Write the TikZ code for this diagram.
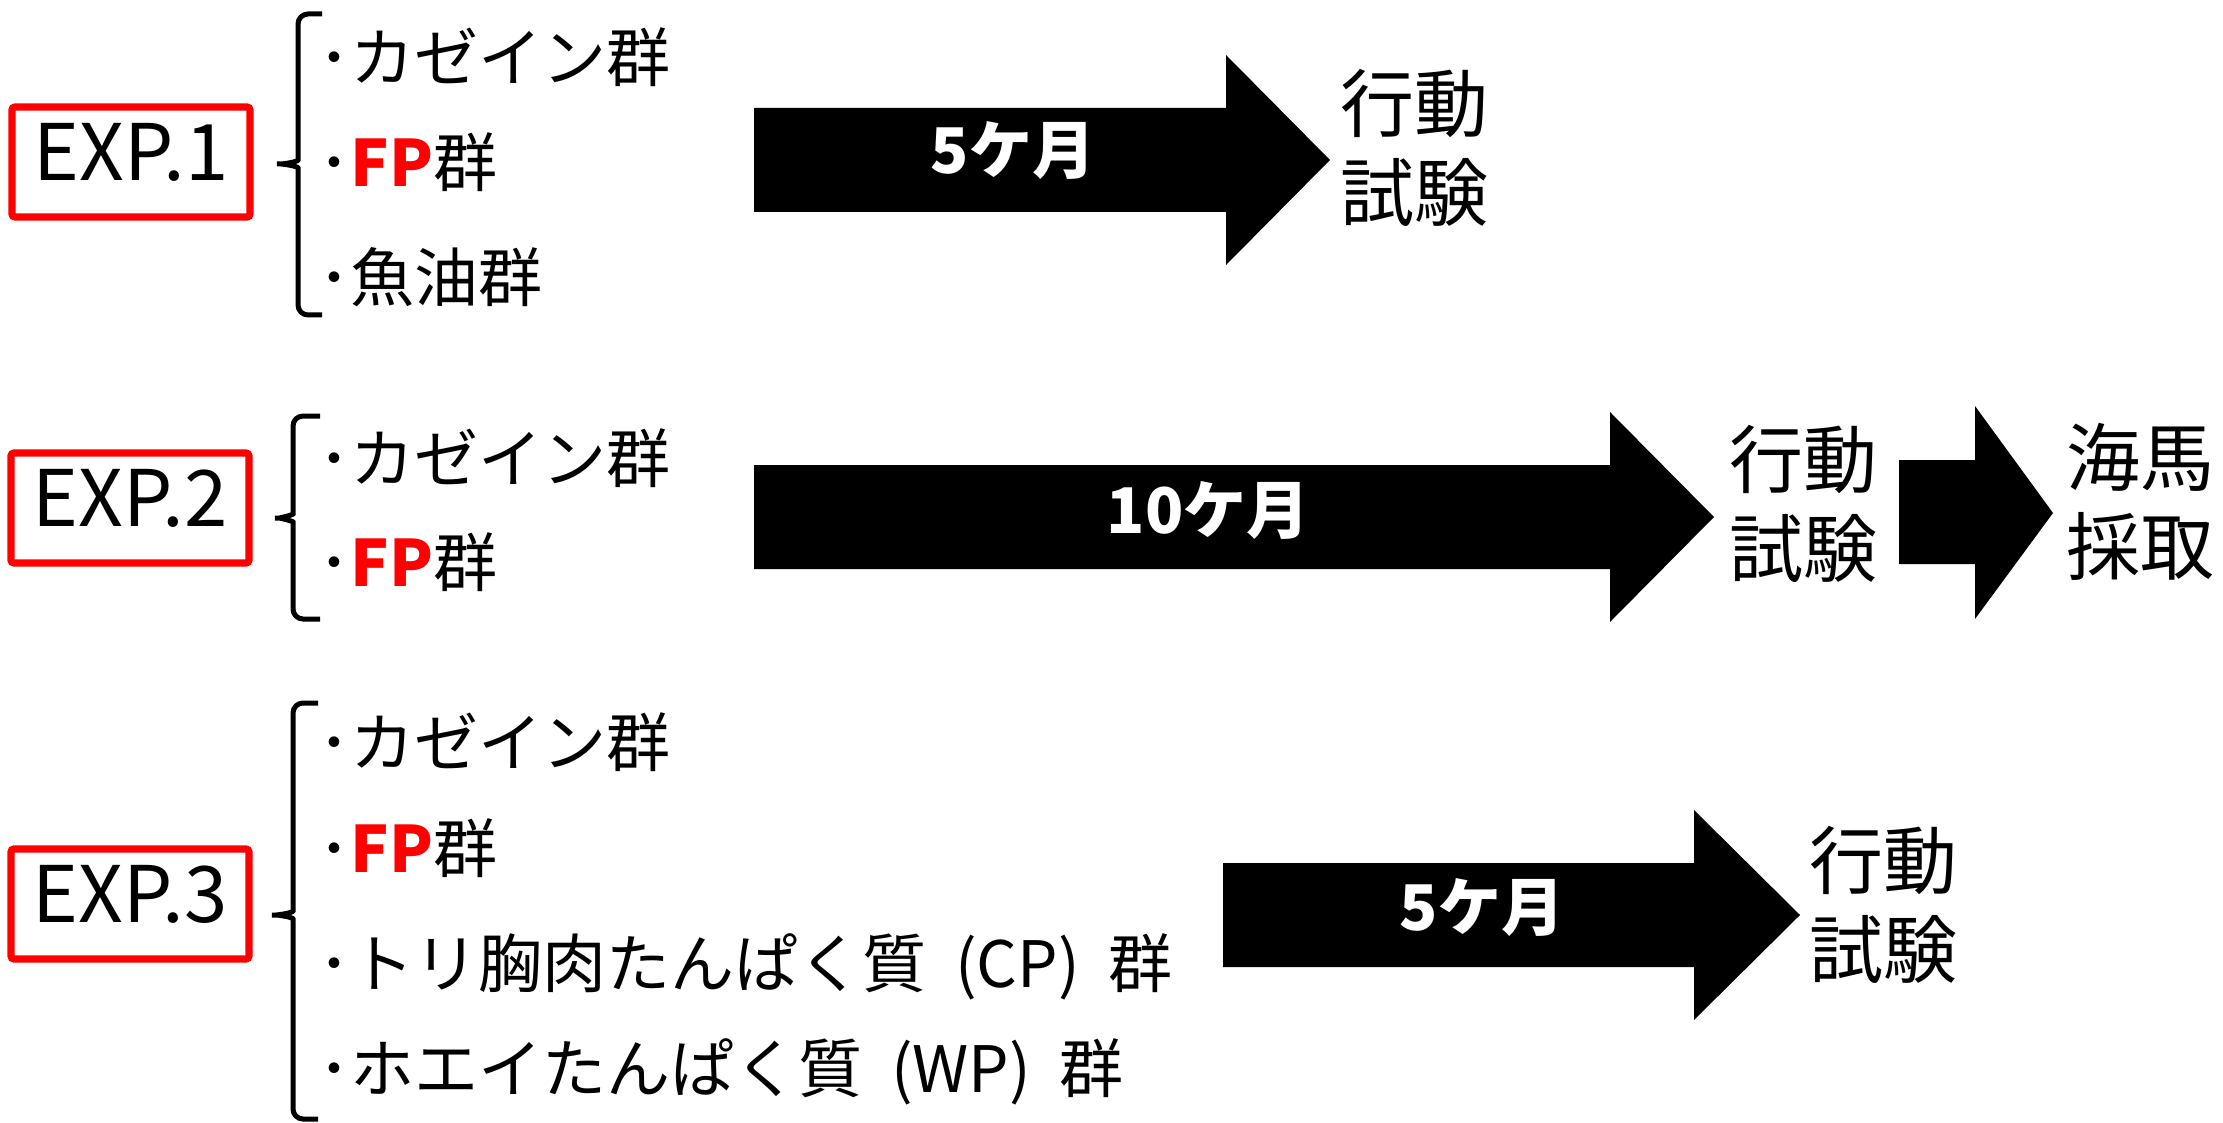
\documentclass[tikz,border=0pt]{standalone}
\usepackage{fontspec}
\setmainfont{Noto Sans CJK JP}
\usetikzlibrary{positioning}
\definecolor{expred}{RGB}{255,0,0}
\newcommand{\fpname}{\textcolor{expred}{\bfseries FP}}
\tikzset{
  expbox/.style={draw=expred, line width=3.6pt, rounded corners=1.5pt,
    minimum width=119pt, minimum height=55pt, inner sep=0pt,
    text depth=10pt, font=\fontsize{39}{46}\selectfont},
  grpitem/.style={anchor=west, inner sep=0pt, text height=28pt,
    text depth=4pt, font=\fontsize{32}{38}\selectfont},
  brace/.style={line width=2.5pt, rounded corners=5pt},
  blockarrow/.style={fill=black},
  period/.style={text=white, inner sep=0pt,
    font=\fontsize{31.5}{36}\selectfont\bfseries},
  result/.style={align=center, inner sep=0pt,
    font=\fontsize{37}{44.5}\selectfont}
}

\begin{document}
\begin{tikzpicture}[x=0.5pt, y=-0.5pt]
  \useasboundingbox (0,0) rectangle (2223,1123);

  \node[expbox] (exp1) at (131,162) {EXP.1};
  \draw[brace] (322,14) -| (298,150) to[out=-90, in=0] (271,164)
    to[out=0, in=90] (298,178) |- (322,315);
  \node[grpitem] (e1a) at (318,58)  {･カゼイン群};
  \node[grpitem] (e1b) at (318,163) {･\fpname 群};
  \node[grpitem] (e1c) at (318,278) {･魚油群};
  \fill[blockarrow] (754,108) -- (1226,108) -- (1226,55) -- (1330,160)
    -- (1226,265) -- (1226,212) -- (754,212) -- cycle;
  \node[period] (p1) at (1013,150) {5ケ月};
  \node[result] (r1) at (1414,148) {行動\\試験};

  \node[expbox] (exp2) at (130,508) {EXP.2};
  \draw[brace] (320,416) -| (293,504) to[out=-90, in=0] (269,518)
    to[out=0, in=90] (293,532) |- (320,619);
  \node[grpitem] (e2a) at (318,458) {･カゼイン群};
  \node[grpitem] (e2b) at (318,562) {･\fpname 群};
  \fill[blockarrow] (754,465) -- (1610,465) -- (1610,412) -- (1714,517)
    -- (1610,622) -- (1610,569) -- (754,569) -- cycle;
  \node[period] (p2) at (1208,510) {10ケ月};
  \node[result] (r2) at (1803,504) {行動\\試験};
  \fill[blockarrow] (1899,460) -- (1975,460) -- (1975,406) -- (2053,513)
    -- (1975,619) -- (1975,564) -- (1899,564) -- cycle;
  \node[result] (r2b) at (2140,502) {海馬\\採取};

  \node[expbox] (exp3) at (130,904) {EXP.3};
  \draw[brace] (318,703) -| (293,901) to[out=-90, in=0] (266,915)
    to[out=0, in=90] (293,929) |- (318,1119);
  \node[grpitem] (e3a) at (318,742)  {･カゼイン群};
  \node[grpitem] (e3b) at (318,848)  {･\fpname 群};
  \node[grpitem] (e3c) at (318,963)  {･トリ胸肉たんぱく質\hspace{.45em}(CP)\hspace{.45em}群};
  \node[grpitem] (e3d) at (318,1068) {･ホエイたんぱく質\hspace{.45em}(WP)\hspace{.45em}群};
  \fill[blockarrow] (1223,863) -- (1694,863) -- (1694,810) -- (1800,915)
    -- (1694,1020) -- (1694,967) -- (1223,967) -- cycle;
  \node[period] (p3) at (1482,907) {5ケ月};
  \node[result] (r3) at (1883,905) {行動\\試験};
\end{tikzpicture}
\end{document}
